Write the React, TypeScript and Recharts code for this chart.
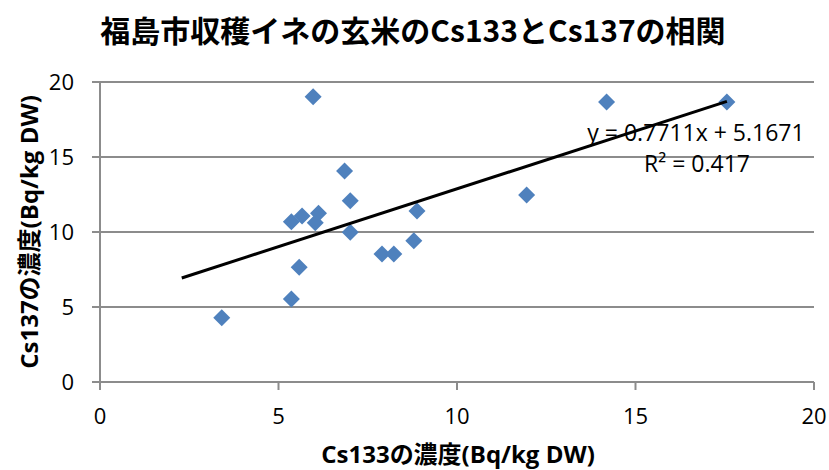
import React from 'react';
import { ScatterChart, Scatter, XAxis, YAxis, CartesianGrid, Customized } from 'recharts';

const cs133 = [5.97, 6.85, 7.01, 5.36, 5.66, 6.12, 6.03, 7.01, 8.88, 8.79, 7.90, 8.23, 5.58, 5.36, 3.41, 14.19, 17.56, 11.95];
const cs137 = [19.02, 14.07, 12.09, 10.69, 11.07, 11.25, 10.62, 9.98, 11.4, 9.42, 8.53, 8.53, 7.65, 5.53, 4.29, 18.67, 18.67, 12.47];
const axisTicks = [0, 5, 10, 15, 20];
const trendSlope = 0.7711;
const trendIntercept = 5.1671;
const trendX = [2.29, 17.56];
const titleText = '福島市収穫イネの玄米のCs133とCs137の相関';
const xLabel = 'Cs133の濃度(Bq/kg DW)';
const yLabel = 'Cs137の濃度(Bq/kg DW)';
const eqText = 'y = 0.7711x + 5.1671';
const r2Text = 'R² = 0.417';

const points = cs133.map((x, i) => ({ x, y: cs137[i] }));
const trend = trendX.map((x) => ({ x, y: trendSlope * x + trendIntercept }));

const GRID = '#8c8c8c';
const LATIN = '"Open Sans", "Noto Sans CJK JP", sans-serif';
const CJK = '"Noto Sans CJK JP", sans-serif';

const Diamond = (props: any) => {
  const { cx, cy } = props;
  const r = 8.5;
  return <path d={`M${cx},${cy - r}L${cx + r},${cy}L${cx},${cy + r}L${cx - r},${cy}Z`} fill="#4F81BD" />;
};

const Empty = () => <g />;

const Overlay = () => (
  <g>
    <text x={413} y={42} textAnchor="middle" fontFamily={CJK} fontWeight={700} fontSize={30} fill="#000">{titleText}</text>
    <text x={458} y={463} textAnchor="middle" fontFamily={LATIN} fontWeight={700} fontSize={24} fill="#000">{xLabel}</text>
    <text x={0} y={0} transform="translate(38,232) rotate(-90)" textAnchor="middle" fontFamily={LATIN} fontWeight={700} fontSize={24} fill="#000">{yLabel}</text>
    <text x={696} y={141} textAnchor="middle" fontFamily={LATIN} fontSize={23} fill="#000">{eqText}</text>
    <text x={697} y={172} textAnchor="middle" fontFamily={LATIN} fontSize={23} fill="#000">{r2Text}</text>
  </g>
);

export default function App() {
  return (
    <div style={{ position: 'absolute', left: 0, top: 0, width: 829, height: 470, background: '#fff' }}>
      <ScatterChart width={829} height={470} margin={{ top: 82, right: 15, bottom: 0, left: 0 }}>
        <CartesianGrid horizontal={true} vertical={false} stroke={GRID} strokeWidth={2} />
        <XAxis
          type="number"
          dataKey="x"
          domain={[0, 20]}
          ticks={axisTicks}
          height={88}
          allowDataOverflow
          stroke={GRID}
          strokeWidth={2}
          tickSize={8}
          tickMargin={18}
          tick={{ fill: '#000', fontSize: 22, fontFamily: LATIN }}
        />
        <YAxis
          type="number"
          dataKey="y"
          domain={[0, 20]}
          ticks={axisTicks}
          width={100}
          allowDataOverflow
          stroke={GRID}
          strokeWidth={2}
          tickSize={8}
          tickMargin={18}
          tick={{ fill: '#000', fontSize: 22, fontFamily: LATIN }}
        />
        <Scatter data={points} shape={<Diamond />} isAnimationActive={false} />
        <Scatter data={trend} shape={<Empty />} line={{ stroke: '#000', strokeWidth: 3 }} lineType="joint" isAnimationActive={false} />
        <Customized component={Overlay} />
      </ScatterChart>
    </div>
  );
}
